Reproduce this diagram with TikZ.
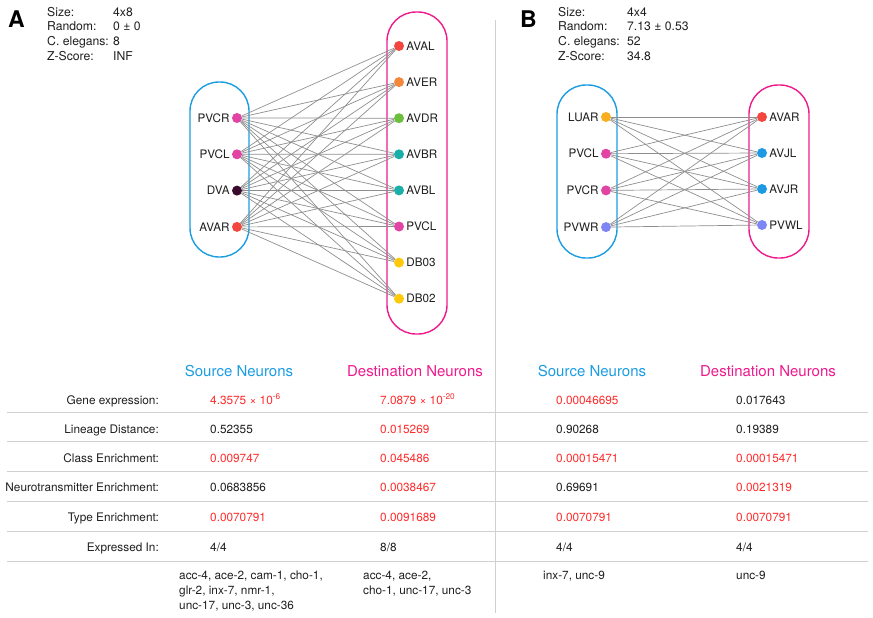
\documentclass[tikz,border=0pt]{standalone}
\usepackage{fontspec}
\setmainfont{TeX Gyre Heros}
\usetikzlibrary{positioning}
\definecolor{srcblue}{HTML}{1B9DE2}
\definecolor{dstpink}{HTML}{EE1A8C}
\definecolor{valred}{HTML}{FF2B2B}
\definecolor{txtgray}{HTML}{1F1F1F}
\definecolor{wiregray}{HTML}{8E8E8E}
\definecolor{rulegray}{HTML}{D0D0D0}
\definecolor{nRed}{HTML}{F2473F}
\definecolor{nOrange}{HTML}{F5873A}
\definecolor{nGreen}{HTML}{6BBF3A}
\definecolor{nTeal}{HTML}{1AAEA8}
\definecolor{nPink}{HTML}{E144A4}
\definecolor{nDark}{HTML}{3A0B2E}
\definecolor{nYellow}{HTML}{FFC90A}
\definecolor{nAmber}{HTML}{F8AE1E}
\definecolor{nBlue}{HTML}{1E9AE4}
\definecolor{nLav}{HTML}{7E86F4}
\newcommand\sig[1]{\textcolor{valred}{#1}}
\tikzset{node distance=36.2pt,
  dot/.style={circle, fill=#1, minimum size=10pt, inner sep=0pt},
  nlbl/.style={font=\fontsize{11.7}{14}\selectfont, text=txtgray, inner sep=2pt},
  wire/.style={draw=wiregray, line width=0.7pt},
  srcbox/.style={draw=srcblue, line width=1.4pt, rounded corners=29pt},
  dstbox/.style={draw=dstpink, line width=1.4pt, rounded corners=29pt},
  txt/.style={font=\fontsize{11.8}{15}\selectfont, text=txtgray, inner sep=0pt, anchor=base west},
  stat/.style={txt, font=\fontsize{12.2}{15}\selectfont},
  rowlbl/.style={txt, anchor=base east},
  head/.style={font=\fontsize{15}{18}\selectfont, inner sep=0pt, anchor=base},
  panel/.style={font=\fontsize{23}{26}\selectfont\bfseries, inner sep=0pt, anchor=base west},
  rule/.style={draw=rulegray, line width=0.9pt}}
\begin{document}
\begin{tikzpicture}[x=1pt,y=-1pt]
\useasboundingbox (0,0) rectangle (873,618);

% panel A
\node[panel] (pA) at (8,28) {A};
\foreach \k/\v [count=\i from 0] in {Size:/4x8,Random:/0 ± 0,C. elegans:/8,Z-Score:/INF}{
  \node[stat] (Ak\i) at (47,16.5+14.5*\i) {\k};
  \node[stat] (Av\i) at (113,16.5+14.5*\i) {\v};
}
\draw[srcbox] (190,82) rectangle (249,257);
\draw[dstbox] (387,12) rectangle (447,334);

\node[dot=nPink, label={[nlbl]left:PVCR}] (AsPVCR) at (237,118) {};
\foreach \n/\c [remember=\n as \p (initially PVCR)] in {PVCL/nPink,DVA/nDark,AVAR/nRed}
  \node[dot=\c, label={[nlbl]left:\n}, node distance=36.3pt, below of=As\p] (As\n) {};
\node[dot=nRed, label={[nlbl]right:AVAL}] (AdAVAL) at (399,46) {};
\foreach \n/\c [remember=\n as \p (initially AVAL)] in {AVER/nOrange,AVDR/nGreen,AVBR/nTeal,AVBL/nTeal,PVCL/nPink,DB03/nYellow,DB02/nYellow}
  \node[dot=\c, label={[nlbl]right:\n}, node distance=36.1pt, below of=Ad\p] (Ad\n) {};

\foreach \s in {PVCR,PVCL,DVA,AVAR}
  \foreach \d in {AVAL,AVER,AVDR,AVBR,AVBL,PVCL,DB03,DB02}
    \draw[wire] (As\s) -- (Ad\d);

% panel B
\node[panel] (pB) at (520,28) {B};
\foreach \k/\v [count=\i from 0] in {Size:/4x4,Random:/7.13 ± 0.53,C. elegans:/52,Z-Score:/34.8}{
  \node[stat] (Bk\i) at (558,16.5+14.5*\i) {\k};
  \node[stat] (Bv\i) at (627,16.5+14.5*\i) {\v};
}
\draw[srcbox] (557,85) rectangle (617,258);
\draw[dstbox] (749,85) rectangle (809,258);

\node[dot=nAmber, label={[nlbl]left:LUAR}] (BsLUAR) at (606,117) {};
\foreach \n/\c [remember=\n as \p (initially LUAR)] in {PVCL/nPink,PVCR/nPink,PVWR/nLav}
  \node[dot=\c, label={[nlbl]left:\n}, node distance=36.7pt, below of=Bs\p] (Bs\n) {};
\node[dot=nRed, label={[nlbl]right:AVAR}] (BdAVAR) at (762,117) {};
\foreach \n/\c [remember=\n as \p (initially AVAR)] in {AVJL/nBlue,AVJR/nBlue,PVWL/nLav}
  \node[dot=\c, label={[nlbl]right:\n}, node distance=36pt, below of=Bd\p] (Bd\n) {};

\foreach \s in {LUAR,PVCL,PVCR,PVWR}
  \foreach \d in {AVAR,AVJL,AVJR,PVWL}
    \draw[wire] (Bs\s) -- (Bd\d);

% table
\draw[rule] (495,20) -- (495,613);
\foreach \y in {412,441,471,501,531,561}
  \draw[rule] (7,\y) -- (868,\y);

\node[head, text=srcblue] (hAs) at (239,376) {Source Neurons};
\node[head, text=dstpink] (hAd) at (415,376) {Destination Neurons};
\node[head, text=srcblue] (hBs) at (592,376) {Source Neurons};
\node[head, text=dstpink] (hBd) at (768,376) {Destination Neurons};

\foreach \y/\lab/\va/\vb/\vc/\vd [count=\i] in {
  404/Gene expression:/\sig{4.3575 × 10\textsuperscript{-6}}/\sig{7.0879 × 10\textsuperscript{-20}}/\sig{0.00046695}/0.017643,
  433/Lineage Distance:/0.52355/\sig{0.015269}/0.90268/0.19389,
  462/Class Enrichment:/\sig{0.009747}/\sig{0.045486}/\sig{0.00015471}/\sig{0.00015471},
  491/Neurotransmitter Enrichment:/0.0683856/\sig{0.0038467}/0.69691/\sig{0.0021319},
  521/Type Enrichment:/\sig{0.0070791}/\sig{0.0091689}/\sig{0.0070791}/\sig{0.0070791}}{
  \node[rowlbl] (r\i) at (159,\y) {\lab};
  \node[txt] (ra\i) at (210,\y) {\va};
  \node[txt] (rb\i) at (380,\y) {\vb};
  \node[txt] (rc\i) at (556,\y) {\vc};
  \node[txt] (rd\i) at (736,\y) {\vd};
}
\node[rowlbl] (r6) at (159,551) {Expressed In:};
\node[txt] (ra6) at (210,551) {4/4};
\node[txt] (rb6) at (380,551) {8/8};
\node[txt] (rc6) at (556,551) {4/4};
\node[txt] (rd6) at (736,551) {4/4};

\node[txt, anchor=north west, align=left] (gA) at (179,570.5) {acc-4, ace-2, cam-1, cho-1,\\glr-2, inx-7, nmr-1,\\unc-17, unc-3, unc-36};
\node[txt, anchor=north west, align=left] (gB) at (363,570.5) {acc-4, ace-2,\\cho-1, unc-17, unc-3};
\node[txt, anchor=north west] (gC) at (543,570.5) {inx-7, unc-9};
\node[txt, anchor=north west] (gD) at (736,570.5) {unc-9};
\end{tikzpicture}
\end{document}
